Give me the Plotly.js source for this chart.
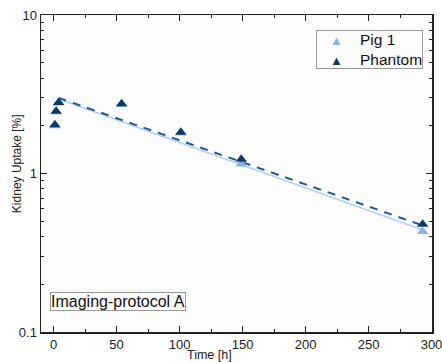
<!DOCTYPE html>
<html>
<head>
<meta charset="utf-8">
<script src="https://cdn.plot.ly/plotly-3.0.1.min.js"></script>
<style>html,body{margin:0;padding:0;background:#fff;}#chart{width:442px;height:362px;}</style>
</head>
<body>
<div id="chart"></div>
<script>
// Measured data
const pigTime = [1, 2, 4, 54, 101, 149, 293];
const pigUptake = [2.0, 2.45, 2.78, 2.72, 1.8, 1.15, 0.43];
const phantomTime = [1, 2, 4, 54, 101, 149, 293];
const phantomUptake = [2.03, 2.47, 2.81, 2.75, 1.82, 1.23, 0.478];
// Fit lines (endpoints)
const pigFitTime = [4, 293];
const pigFitUptake = [2.95, 0.44];
const phantomFitTime = [4, 293];
const phantomFitUptake = [3.0, 0.47];
const xTickVals = [0, 50, 100, 150, 200, 250, 300];
const yTickVals = [0.1, 1, 10];
const yTickText = ['0.1', '1', '10'];
const seriesNames = ['Pig 1', 'Phantom'];

const FONT = 'Arial';
const lightBlue = '#86b3e3';
const darkBlue = '#0d3a6b';

const traces = [
  {x: pigFitTime, y: pigFitUptake, mode: 'lines', line: {color: '#b5cff0', width: 1.5}, showlegend: false, hoverinfo: 'skip'},
  {x: phantomFitTime, y: phantomFitUptake, mode: 'lines', line: {color: '#1f5a9c', width: 2, dash: '8px,7px'}, showlegend: false, hoverinfo: 'skip'},
  {x: pigTime, y: pigUptake, mode: 'markers', name: seriesNames[0], showlegend: false, marker: {symbol: 'triangle-up', size: 10, color: lightBlue}},
  {x: phantomTime, y: phantomUptake, mode: 'markers', name: seriesNames[1], showlegend: false, marker: {symbol: 'triangle-up', size: 10, color: darkBlue}}
];

const axisCommon = {
  showline: true, linecolor: '#222', linewidth: 1.5, mirror: 'ticks',
  ticks: 'inside', ticklen: 6, tickcolor: '#222', tickwidth: 1.5,
  showgrid: false, zeroline: false,
  tickfont: {family: FONT, size: 13, color: '#222'}
};

const sp = n => '&nbsp;'.repeat(n);
const tri = c => `<span style="color:${c};font-size:13px">▲</span>`;
const legendText = sp(3) + tri(lightBlue) + sp(4) + seriesNames[0] + '<br>' +
                   sp(3) + tri(darkBlue) + sp(4) + seriesNames[1];

const layout = {
  width: 442, height: 362,
  margin: {l: 41, r: 10, t: 15, b: 30},
  paper_bgcolor: '#ffffff',
  plot_bgcolor: '#fcfcfc',
  showlegend: false,
  xaxis: Object.assign({}, axisCommon, {
    range: [-10, 300.4],
    tickvals: xTickVals,
    ticklabeloverflow: 'allow',
    minor: {dtick: 25, tick0: 0, ticks: 'inside', ticklen: 3, tickcolor: '#222', tickwidth: 1},
    ticklabelstandoff: 0
  }),
  yaxis: Object.assign({}, axisCommon, {
    type: 'log',
    range: [-1, 1],
    tickvals: yTickVals,
    ticktext: yTickText,
    minor: {dtick: 'D1', ticks: 'inside', ticklen: 3, tickcolor: '#222', tickwidth: 1}
  }),
  annotations: [
    {
      xref: 'paper', yref: 'paper', x: 0.977, y: 0.953, xanchor: 'right', yanchor: 'top',
      text: legendText, align: 'left', showarrow: false,
      font: {family: FONT, size: 15.5, color: '#111'},
      bordercolor: '#999', borderwidth: 1, borderpad: 0, bgcolor: '#fcfcfc'
    },
    {
      xref: 'paper', yref: 'paper', x: 0.023, y: 0.065, xanchor: 'left', yanchor: 'bottom',
      text: 'Imaging-protocol A', showarrow: false,
      font: {family: FONT, size: 16, color: '#111'},
      bordercolor: '#999', borderwidth: 1, borderpad: 0, bgcolor: '#fcfcfc'
    },
    {
      xref: 'paper', yref: 'paper', x: -0.061, y: 0.53, xanchor: 'center', yanchor: 'middle',
      text: 'Kidney Uptake [%]', textangle: -90, showarrow: false,
      font: {family: FONT, size: 12, color: '#222'}
    },
    {
      xref: 'paper', yref: 'paper', x: 0.432, y: -0.074, xanchor: 'center', yanchor: 'middle',
      text: 'Time [h]', showarrow: false,
      font: {family: FONT, size: 12.5, color: '#222'}
    }
  ]
};

Plotly.newPlot('chart', traces, layout, {displayModeBar: false, staticPlot: true});
</script>
</body>
</html>
